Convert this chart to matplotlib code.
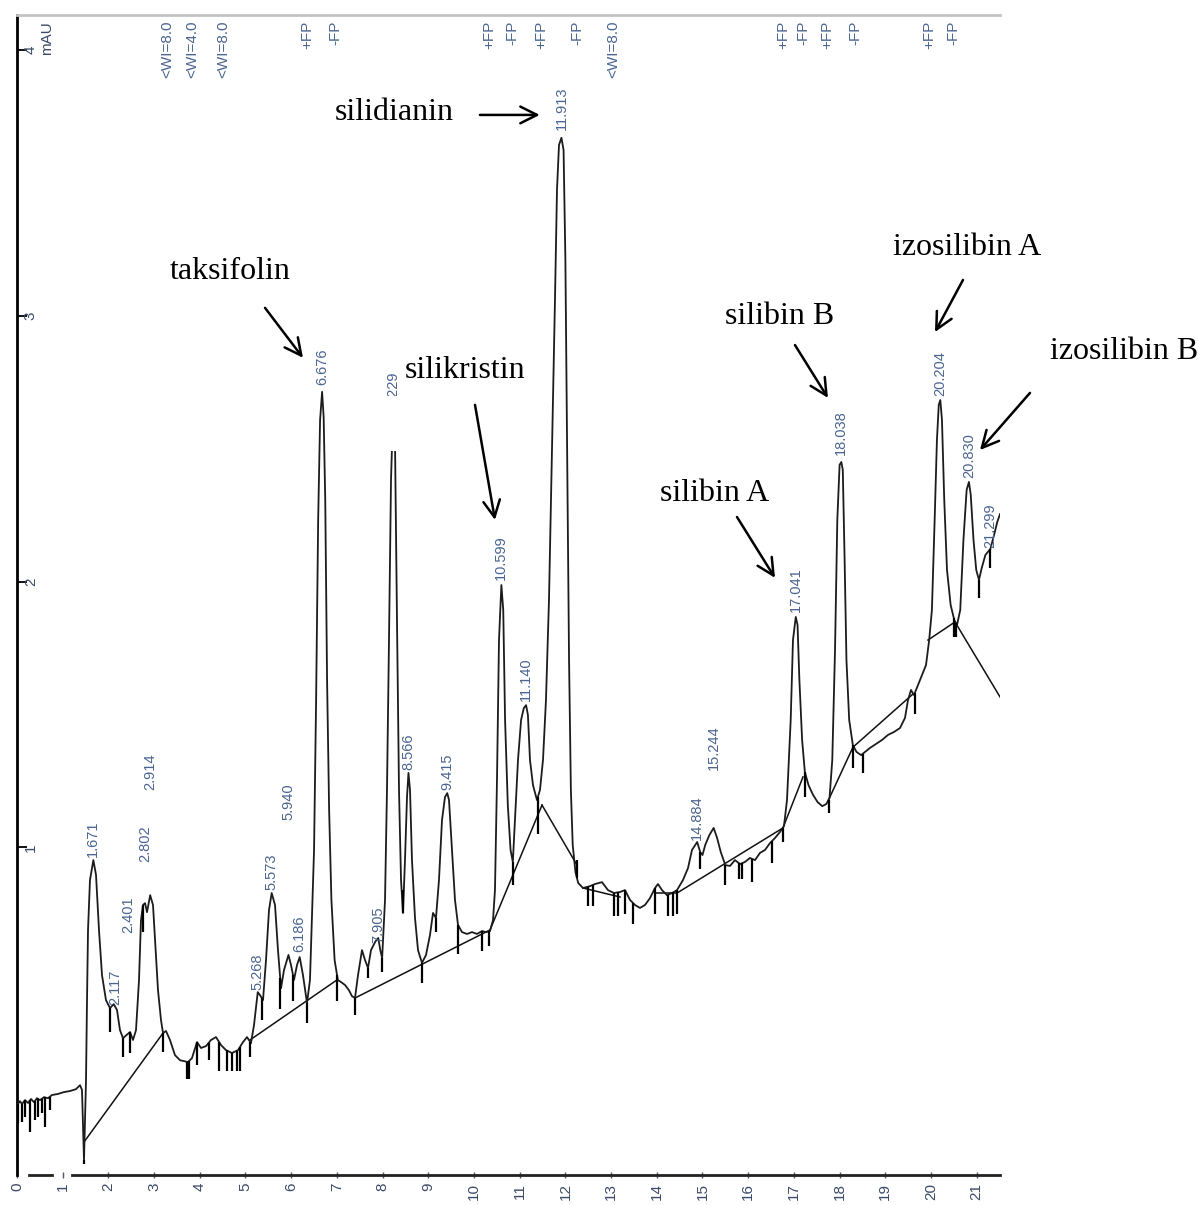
import matplotlib.pyplot as plt
import numpy as np
from matplotlib.patches import Rectangle

plt.rcParams["font.family"] = ["Liberation Sans", "DejaVu Sans"]

# detector trace: retention time (min), absorbance (mAU)
signal = np.array([
    (0.000, 0.030), (0.066, 0.045), (0.109, 0.034), (0.175, 0.049), (0.241, 0.038),
    (0.306, 0.053), (0.372, 0.041), (0.438, 0.056), (0.503, 0.049), (0.591, 0.060),
    (0.678, 0.056), (0.766, 0.068), (0.897, 0.072), (1.028, 0.079), (1.160, 0.083),
    (1.291, 0.090), (1.379, 0.105), (1.422, 0.087), (1.466, -0.177), (1.510, 0.124),
    (1.532, 0.425), (1.554, 0.689), (1.597, 0.877), (1.671, 0.952), (1.729, 0.896),
    (1.794, 0.689), (1.860, 0.519), (1.947, 0.425), (2.035, 0.395), (2.117, 0.410),
    (2.188, 0.388), (2.254, 0.312), (2.319, 0.282), (2.401, 0.294), (2.473, 0.305),
    (2.538, 0.275), (2.604, 0.312), (2.670, 0.501), (2.713, 0.726), (2.757, 0.783),
    (2.802, 0.790), (2.845, 0.756), (2.914, 0.820), (2.976, 0.783), (3.020, 0.651),
    (3.085, 0.463), (3.151, 0.350), (3.195, 0.301), (3.260, 0.309), (3.348, 0.275),
    (3.457, 0.218), (3.567, 0.199), (3.742, 0.192), (3.829, 0.207), (3.939, 0.267),
    (4.026, 0.245), (4.136, 0.252), (4.245, 0.275), (4.354, 0.286), (4.464, 0.256),
    (4.573, 0.237), (4.705, 0.226), (4.836, 0.237), (4.945, 0.267), (5.033, 0.286),
    (5.120, 0.263), (5.186, 0.331), (5.268, 0.455), (5.317, 0.444), (5.383, 0.425),
    (5.449, 0.576), (5.514, 0.764), (5.573, 0.828), (5.646, 0.783), (5.711, 0.613),
    (5.777, 0.470), (5.842, 0.538), (5.940, 0.595), (5.996, 0.557), (6.061, 0.501),
    (6.127, 0.557), (6.186, 0.587), (6.258, 0.519), (6.346, 0.414), (6.411, 0.501),
    (6.500, 0.990), (6.545, 1.554), (6.590, 2.232), (6.632, 2.608), (6.676, 2.714),
    (6.710, 2.620), (6.745, 2.307), (6.785, 1.630), (6.830, 1.140), (6.880, 0.802),
    (6.950, 0.576), (7.020, 0.501), (7.090, 0.493), (7.177, 0.482), (7.265, 0.462),
    (7.330, 0.440), (7.396, 0.433), (7.462, 0.519), (7.549, 0.613), (7.615, 0.576),
    (7.681, 0.546), (7.746, 0.613), (7.840, 0.645), (7.905, 0.659), (7.950, 0.613),
    (7.990, 0.583), (8.053, 0.802), (8.096, 1.216), (8.140, 1.780), (8.184, 2.382),
    (8.229, 2.642), (8.271, 2.533), (8.315, 1.855), (8.359, 1.216), (8.403, 0.877),
    (8.446, 0.753), (8.490, 0.952), (8.534, 1.189), (8.566, 1.280), (8.600, 1.216),
    (8.643, 0.952), (8.709, 0.734), (8.775, 0.613), (8.862, 0.565), (8.950, 0.595),
    (9.037, 0.670), (9.103, 0.753), (9.168, 0.734), (9.234, 0.877), (9.300, 1.103),
    (9.365, 1.189), (9.415, 1.204), (9.453, 1.178), (9.519, 0.990), (9.584, 0.802),
    (9.650, 0.708), (9.737, 0.681), (9.847, 0.674), (9.956, 0.681), (10.066, 0.674),
    (10.175, 0.685), (10.263, 0.681), (10.350, 0.685), (10.416, 0.726), (10.459, 0.839),
    (10.503, 1.253), (10.547, 1.780), (10.599, 1.987), (10.640, 1.893), (10.680, 1.479),
    (10.740, 1.159), (10.800, 0.990), (10.850, 0.945), (10.897, 1.103), (10.963, 1.329),
    (11.030, 1.479), (11.090, 1.524), (11.140, 1.535), (11.180, 1.498), (11.225, 1.329),
    (11.291, 1.234), (11.378, 1.178), (11.444, 1.216), (11.510, 1.329), (11.575, 1.554),
    (11.641, 1.931), (11.707, 2.495), (11.772, 3.060), (11.816, 3.474), (11.860, 3.643),
    (11.913, 3.670), (11.960, 3.624), (12.000, 3.210), (12.040, 2.458), (12.080, 1.705),
    (12.120, 1.216), (12.160, 1.009), (12.220, 0.907), (12.280, 0.866), (12.385, 0.847),
    (12.538, 0.854), (12.648, 0.862), (12.801, 0.869), (12.932, 0.839), (13.063, 0.828),
    (13.195, 0.832), (13.304, 0.839), (13.414, 0.802), (13.523, 0.783), (13.632, 0.772),
    (13.742, 0.783), (13.851, 0.809), (13.961, 0.847), (14.026, 0.862), (14.114, 0.839),
    (14.223, 0.820), (14.333, 0.828), (14.442, 0.839), (14.573, 0.877), (14.683, 0.922),
    (14.770, 0.990), (14.884, 1.020), (14.950, 0.982), (15.000, 0.971), (15.060, 1.009),
    (15.150, 1.046), (15.244, 1.073), (15.320, 1.035), (15.400, 0.982), (15.500, 0.933),
    (15.602, 0.930), (15.711, 0.952), (15.821, 0.937), (15.930, 0.945), (16.039, 0.960),
    (16.149, 0.952), (16.258, 0.979), (16.368, 0.990), (16.477, 1.016), (16.586, 1.035),
    (16.696, 1.058), (16.783, 1.080), (16.849, 1.178), (16.930, 1.479), (16.980, 1.780),
    (17.041, 1.867), (17.080, 1.837), (17.120, 1.630), (17.180, 1.404), (17.240, 1.283),
    (17.320, 1.234), (17.420, 1.197), (17.520, 1.170), (17.620, 1.155), (17.710, 1.163),
    (17.780, 1.186), (17.840, 1.329), (17.900, 1.743), (17.950, 2.232), (18.000, 2.439),
    (18.038, 2.450), (18.070, 2.420), (18.110, 2.081), (18.150, 1.705), (18.210, 1.479),
    (18.290, 1.385), (18.370, 1.359), (18.470, 1.347), (18.556, 1.359), (18.665, 1.374),
    (18.796, 1.389), (18.928, 1.404), (19.059, 1.423), (19.190, 1.434), (19.322, 1.449),
    (19.431, 1.487), (19.497, 1.554), (19.562, 1.592), (19.628, 1.573), (19.716, 1.611),
    (19.803, 1.648), (19.891, 1.686), (19.960, 1.780), (20.020, 1.893), (20.080, 2.232),
    (20.130, 2.533), (20.170, 2.665), (20.204, 2.683), (20.240, 2.608), (20.290, 2.307),
    (20.350, 2.044), (20.430, 1.912), (20.510, 1.855), (20.570, 1.837), (20.640, 1.893),
    (20.710, 2.157), (20.780, 2.345), (20.830, 2.375), (20.870, 2.326), (20.930, 2.157),
    (20.990, 2.044), (21.050, 2.006), (21.110, 2.051), (21.190, 2.100), (21.299, 2.123),
    (21.380, 2.175), (21.450, 2.224), (21.510, 2.254),
])
sig_t, sig_v = signal[:, 0], signal[:, 1]

# integration baselines: (start time, start mAU, end time, end mAU)
baselines = [
    (1.466, -0.109, 3.195, 0.301),
    (5.098, 0.275, 7.002, 0.501),
    (7.396, 0.433, 10.350, 0.689),
    (10.350, 0.689, 11.488, 1.159),
    (11.488, 1.159, 12.254, 0.933),
    (12.385, 0.847, 13.195, 0.813),
    (13.961, 0.828, 14.442, 0.828),
    (14.442, 0.828, 16.761, 1.073),
    (16.761, 1.073, 17.199, 1.265),
    (17.746, 1.174, 18.293, 1.377),
    (18.293, 1.377, 19.606, 1.577),
    (19.934, 1.780, 20.525, 1.848),
    (20.525, 1.848, 21.510, 1.566),
]

# peak start/stop marks: time and far end of the drop line
drop_t = [0.022, 0.109, 0.175, 0.284, 0.394, 0.460, 0.547, 0.613, 0.722, 1.466,
          2.030, 2.319, 2.473, 2.757, 3.195, 3.720, 3.760, 3.939, 4.200, 4.420,
          4.590, 4.700, 4.810, 4.880, 5.100, 5.360, 5.760, 6.040, 6.346, 7.002,
          7.396, 7.681, 7.990, 8.446, 8.862, 9.168, 9.650, 10.175, 10.330, 10.850,
          11.400, 12.254, 12.490, 12.600, 13.063, 13.150, 13.304, 13.480, 13.961, 14.250,
          14.360, 14.442, 14.950, 15.500, 15.800, 15.870, 16.080, 16.520, 16.761, 17.240,
          17.760, 18.290, 18.510, 19.650, 20.500, 20.550, 21.050, 21.299]
drop_end = [-0.038, -0.034, -0.015, -0.072, -0.026, -0.015, 0.000, -0.053, 0.011, -0.190,
            0.305, 0.210, 0.225, 0.680, 0.230, 0.130, 0.130, 0.180, 0.200, 0.160,
            0.160, 0.160, 0.160, 0.160, 0.210, 0.350, 0.390, 0.420, 0.340, 0.420,
            0.370, 0.510, 0.530, 0.840, 0.490, 0.680, 0.600, 0.610, 0.630, 0.860,
            1.050, 0.952, 0.780, 0.780, 0.740, 0.740, 0.750, 0.710, 0.750, 0.740,
            0.740, 0.750, 0.920, 0.860, 0.880, 0.880, 0.870, 0.940, 1.020, 1.190,
            1.130, 1.300, 1.280, 1.500, 1.790, 1.790, 1.940, 2.050]

# retention-time labels and the height of each label's foot
peak_text = ["1.671", "2.117", "2.401", "2.802", "2.914", "5.268", "5.573", "5.940",
             "6.186", "6.676", "7.905", "8.229", "8.566", "9.415", "10.599", "11.140",
             "11.913", "14.884", "15.244", "17.041", "18.038", "20.204", "20.830", "21.299"]
peak_t = [1.671, 2.140, 2.430, 2.802, 2.914, 5.268, 5.573, 5.940,
          6.186, 6.676, 7.905, 8.229, 8.566, 9.415, 10.599, 11.140,
          11.913, 14.884, 15.244, 17.041, 18.038, 20.204, 20.830, 21.299]
peak_foot = [0.963, 0.406, 0.677, 0.945, 1.216, 0.463, 0.839, 1.103,
             0.606, 2.740, 0.640, 2.653, 1.291, 1.216, 2.006, 1.550,
             3.700, 1.027, 1.290, 1.886, 2.476, 2.700, 2.390, 2.127]

# timetable events printed along the top edge
event_text = ["<WI=8.0", "<WI=4.0", "<WI=8.0", "+FP", "-FP", "+FP", "-FP", "+FP",
              "-FP", "<WI=8.0", "+FP", "-FP", "+FP", "-FP", "+FP", "-FP"]
event_t = [3.282, 3.829, 4.508, 6.346, 6.958, 10.328, 10.832, 11.466,
           12.254, 13.042, 16.761, 17.199, 17.724, 18.337, 19.956, 20.481]

# compound names with their arrows (tail -> head)
compounds = ["silidianin", "taksifolin", "silikristin", "silibin A",
             "silibin B", "izosilibin A", "izosilibin B"]
name_t = [6.958, 3.348, 8.490, 14.070, 15.492, 19.168, 22.604]
name_v = [3.764, 3.165, 2.796, 2.333, 2.996, 3.256, 2.864]
arrow_tail = [(10.13, 3.756), (5.427, 3.030), (10.022, 2.665), (15.755, 2.243),
              (17.024, 2.890), (20.700, 3.135), (22.166, 2.710)]
arrow_head = [(11.44, 3.756), (6.258, 2.842), (10.459, 2.232), (16.586, 2.014),
              (17.746, 2.691), (20.088, 2.939), (21.072, 2.495)]

label_blue = "#4a6590"
tick_blue = "#3b4a68"

fig = plt.figure(figsize=(11.98, 12.05), dpi=100)
ax = fig.add_axes([17 / 1198, 30 / 1205, 983 / 1198, 1160 / 1205])
ax.set_xlim(0, 21.51)
ax.set_ylim(-0.233, 4.132)

ax.plot(sig_t, sig_v, color="#1c1c1c", lw=1.3, zorder=3)
for t0, v0, t1, v1 in baselines:
    ax.plot([t0, t1], [v0, v1], color="#111111", lw=1.1, zorder=2)
drop_top = np.interp(drop_t, sig_t, sig_v)
ax.vlines(drop_t, drop_end, drop_top, color="black", lw=1.6, zorder=3)

for s, t, v in zip(peak_text, peak_t, peak_foot):
    ax.text(t, v, s, rotation=90, ha="center", va="bottom", fontsize=10.5,
            color=label_blue, zorder=4)

# the top of the 8.229 peak and the "8." of its label sit under a blank box
ax.add_patch(Rectangle((8.229 - 0.2, 2.49), 0.4, 0.21, facecolor="white",
                       edgecolor="none", zorder=5))

for s, t in zip(event_text, event_t):
    ax.text(t, 4.11, s, rotation=90, ha="center", va="top", fontsize=11,
            color=label_blue)
ax.text(0.656, 4.11, "mAU", rotation=90, ha="center", va="top", fontsize=11,
        color=tick_blue)

for name, t, v, tail, head in zip(compounds, name_t, name_v, arrow_tail, arrow_head):
    ax.text(t, v, name, family="Liberation Serif", fontsize=23, ha="left",
            va="center", zorder=6)
    ax.annotate("", xy=head, xytext=tail, annotation_clip=False, zorder=6,
                arrowprops=dict(arrowstyle="->,head_length=0.6,head_width=0.3",
                                lw=1.8, color="black", mutation_scale=20,
                                shrinkA=0, shrinkB=0))

# axes frame: black left edge, gray top edge, broken time axis
ax.spines["right"].set_visible(False)
ax.spines["bottom"].set_visible(False)
ax.spines["left"].set_linewidth(2)
ax.spines["top"].set_color("#c4c4c4")
ax.spines["top"].set_linewidth(2)
axis_line = ax.get_xaxis_transform()
ax.plot([0.26, 0.77], [0, 0], transform=axis_line, color="#222222", lw=2, clip_on=False)
ax.plot([1.2, 21.51], [0, 0], transform=axis_line, color="#222222", lw=2, clip_on=False)

ax.set_xticks(range(22))
ax.set_xticklabels([str(i) for i in range(22)])
ax.tick_params(axis="x", direction="inout", length=5, width=1, color="#555577",
               labelrotation=90, labelsize=11, labelcolor=tick_blue, pad=3)
ax.set_yticks([1, 2, 3, 4])
ax.set_yticklabels(["1", "2", "3", "4"])
ax.tick_params(axis="y", direction="in", length=7, width=1.3, color="black",
               labelrotation=90, labelsize=11, labelcolor=tick_blue, pad=-15)
plt.setp(ax.get_yticklabels(), va="center")

fig.savefig("out.png", dpi=100)
